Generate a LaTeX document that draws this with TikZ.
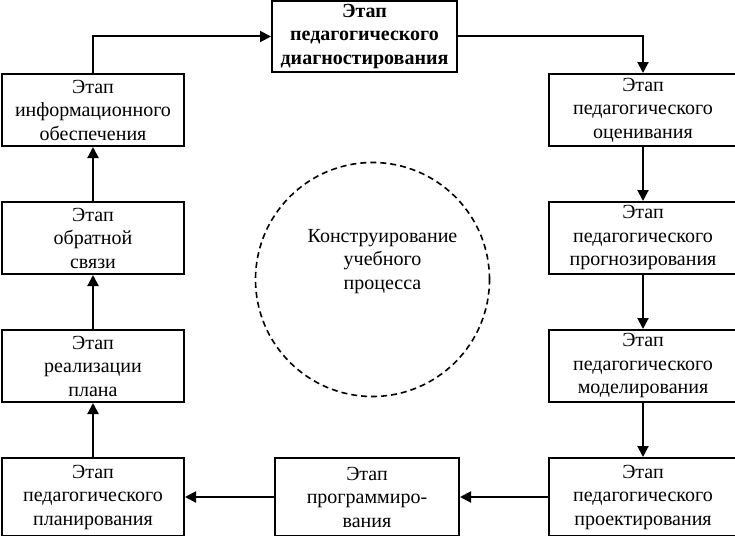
\documentclass[tikz,border=0pt]{standalone}
\usepackage{fontspec}
\setmainfont{Liberation Serif}
\usetikzlibrary{positioning, arrows.meta}

\begin{document}
\begin{tikzpicture}[x=1pt, y=1pt,
	stage/.style={draw, line width=2pt, inner sep=0pt, align=center,
		minimum width=182pt, minimum height=72pt,
		font=\fontsize{20}{23.5}\selectfont},
	wide/.style={minimum width=188pt},
	low/.style={minimum height=78pt},
	link/.style={-{Triangle[length=11pt, width=11pt]}, line width=2pt},
	node distance=54pt]
	\useasboundingbox (0,0) rectangle (735,-535);

	\node[stage, minimum width=185pt, minimum height=71pt,
		font=\fontsize{20}{23.5}\selectfont\bfseries] (diag) at (364.5,-36.5)
		{Этап\\педагогического\\диагностирования};

	\node[stage] (info) at (93,-110) {Этап\\информационного\\обеспечения};
	\node[stage, below=of info] (back) {Этап\\обратной\\связи};
	\node[stage, below=of back] (real) {Этап\\реализации\\плана};
	\node[stage, low, below=of real] (plan) {Этап\\педагогического\\планирования};
	\node[stage, low, minimum width=184pt, right=89pt of plan] (prog) {Этап\\программиро-\\вания};
	\node[stage, low, wide, right=88pt of prog] (proj) {Этап\\педагогического\\проектирования};
	\node[stage, wide, above=of proj] (model) {Этап\\педагогического\\моделирования};
	\node[stage, wide, above=of model] (prog2) {Этап\\педагогического\\прогнозирования};
	\node[stage, wide, above=of prog2] (eval) {Этап\\педагогического\\оценивания};

	\node[draw, circle, dash pattern=on 6pt off 4pt, line width=1.6pt,
		minimum size=234pt] (core) at (372.5,-279.5) {};
	\node[align=center, font=\fontsize{20}{23.5}\selectfont]
		(coretext) at ([xshift=10pt, yshift=18pt]core.center)
		{Конструирование\\учебного\\процесса};

	\draw[link] (info.north) |- (diag.west);
	\draw[link] (diag.east) -| (eval.north);
	\draw[link]
	(eval) edge (prog2)
	(prog2) edge (model)
	(model) edge (proj)
	(proj) edge (prog)
	(prog) edge (plan)
	(plan) edge (real)
	(real) edge (back)
	(back) edge (info);
\end{tikzpicture}
\end{document}
